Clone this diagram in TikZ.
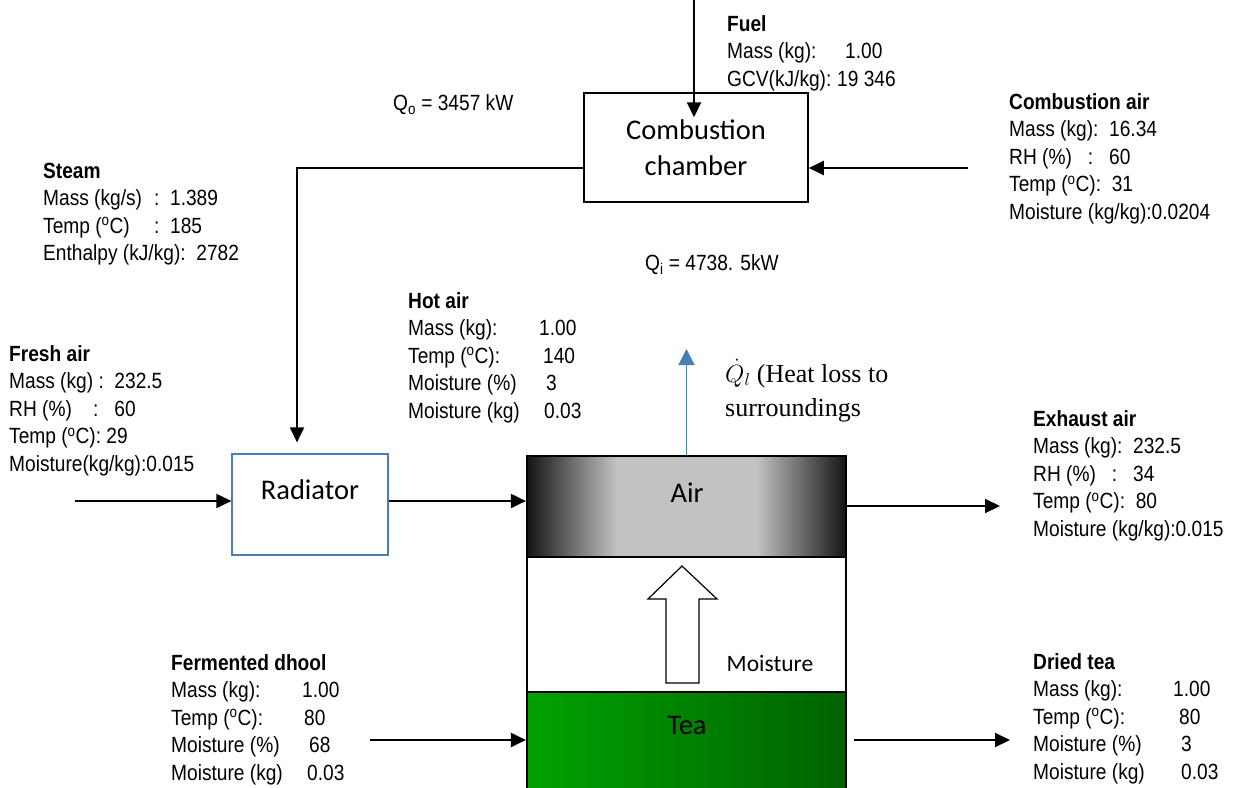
\documentclass[tikz,border=0pt]{standalone}
\usepackage{fontspec}
\setmainfont[FakeStretch=0.87]{Liberation Sans}
\newfontfamily\calfont{Carlito}
\newfontfamily\timesfont{Liberation Serif}
\usetikzlibrary{arrows.meta}
\definecolor{flowblue}{RGB}{74,126,187}
\definecolor{teagreen}{RGB}{0,162,0}
\definecolor{teadark}{RGB}{0,98,0}
\newcommand{\datafont}{\fontsize{22}{27.5}\selectfont}
\newcommand{\fld}[2]{\makebox[#1pt][l]{#2}}
\newcommand{\datarows}[1]{\begin{tabular}{@{}l@{}}#1\end{tabular}}
\pgfdeclarehorizontalshading{airshade}{100bp}{color(0bp)=(black!92); color(25bp)=(black!92); color(32bp)=(black!58); color(39bp)=(black!24); color(61bp)=(black!24); color(68bp)=(black!58); color(75bp)=(black!92); color(100bp)=(black!92)}

\begin{document}
\begin{tikzpicture}[x=1pt, y=-1pt,
    flow/.style={line width=2pt, -{Triangle[length=15pt,width=14pt]}},
    lossflow/.style={flowblue, line width=1.6pt, -{Triangle[length=16pt,width=16pt]}},
    databox/.style={anchor=north west, inner sep=0pt, font=\datafont},
    unittext/.style={font=\calfont\fontsize{28.5}{36}\selectfont, inner sep=0pt}]
  \useasboundingbox (0,0) rectangle (1233,787);

  % units
  \node[draw, line width=1.5pt, minimum width=224pt, minimum height=109pt, inner sep=0pt,
    align=center, font=\calfont\fontsize{28.5}{36}\selectfont] (comb) at (696,147.5) {Combustion\\chamber};
  \node[draw=flowblue, line width=1.2pt, minimum width=156pt, minimum height=101pt] (rad) at (310,504.5) {};
  \node[unittext] (radtext) at (310,490) {Radiator};

  \node[draw, line width=2.2pt, shading=airshade, minimum width=319pt, minimum height=101pt] (airbox) at (686.5,506.5) {};
  \node[draw, line width=2.2pt, fill=white, minimum width=319pt, minimum height=135pt] (midbox) at (686.5,624.5) {};
  \node[draw, line width=2.2pt, left color=teagreen, right color=teadark, minimum width=319pt, minimum height=100pt] (teabox) at (686.5,742) {};
  \node[unittext] (airtext) at (687,493) {Air};
  \node[unittext] (teatext) at (687,725) {Tea};
  \node[unittext, font=\calfont\fontsize{23.5}{28}\selectfont] (moisttext) at (770,663) {Moisture};
  \draw[line width=1.2pt, fill=white] (666,683) -- (666,599) -- (648,599) -- (682,566) -- (717,599) -- (699,599) -- (699,683) -- cycle;

  % streams
  \coordinate (fuelin) at (694,0);
  \coordinate (cairin) at (968,168);
  \coordinate (freshin) at (75,501);
  \coordinate (exhout) at (1000,506);
  \coordinate (dhoolin) at (370,740);
  \coordinate (teaout) at (1010,740);
  \coordinate (lossout) at (686.5,349);

  \draw[flow, shorten >=-25pt] (fuelin) -- (fuelin |- comb.north);
  \draw[flow] (cairin) -- (cairin -| comb.east);
  \draw[flow, shorten >=11pt] (comb.west |- cairin) -| ([xshift=-13pt]rad.north);
  \draw[flow] (freshin) -- (freshin -| rad.west);
  \draw[flow] (freshin -| rad.east) -- (freshin -| airbox.west);
  \draw[flow] (exhout -| airbox.east) -- (exhout);
  \draw[flow] (dhoolin) -- (dhoolin -| teabox.west);
  \draw[flow, shorten <=7pt] (teaout -| teabox.east) -- (teaout);
  \draw[lossflow] (airbox.north) -- (lossout);

  % stream data
  \node[databox] (fuel) at (727,12) {\datarows{\textbf{Fuel}\\
    \fld{118}{Mass (kg):}1.00\\
    \fld{110}{GCV(kJ/kg):}19 346}};
  \node[databox] (cair) at (1009,90) {\datarows{\textbf{Combustion air}\\
    Mass (kg):~~16.34\\
    RH (\%)~~~:~~~60\\
    Temp (\textsuperscript{o}C):~~31\\
    Moisture (kg/kg):0.0204}};
  \node[databox] (steam) at (43,159) {\datarows{\textbf{Steam}\\
    \fld{111}{Mass (kg/s)}:~~1.389\\
    \fld{111}{Temp (\textsuperscript{o}C)}:~~185\\
    Enthalpy (kJ/kg):~~2782}};
  \node[databox] (fresh) at (9,342) {\datarows{\textbf{Fresh air}\\
    Mass (kg)~:~~232.5\\
    RH (\%)~~~~:~~~60\\
    Temp (\textsuperscript{o}C):~29\\
    Moisture(kg/kg):0.015}};
  \node[databox] (hotair) at (408,289) {\datarows{\textbf{Hot air}\\
    \fld{131}{Mass (kg):}1.00\\
    \fld{135}{Temp (\textsuperscript{o}C):}140\\
    \fld{138}{Moisture (\%)}3\\
    \fld{136}{Moisture (kg)}0.03}};
  \node[databox] (exhaust) at (1033,407) {\datarows{\textbf{Exhaust air}\\
    Mass (kg):~~232.5\\
    RH (\%)~~~:~~~34\\
    Temp (\textsuperscript{o}C):~~80\\
    Moisture (kg/kg):0.015}};
  \node[databox] (dhool) at (171,651) {\datarows{\textbf{Fermented dhool}\\
    \fld{131}{Mass (kg):}1.00\\
    \fld{133}{Temp (\textsuperscript{o}C):}80\\
    \fld{138}{Moisture (\%)}68\\
    \fld{136}{Moisture (kg)}0.03}};
  \node[databox] (driedtea) at (1033,650) {\datarows{\textbf{Dried tea}\\
    \fld{140}{Mass (kg):}1.00\\
    \fld{146}{Temp (\textsuperscript{o}C):}80\\
    \fld{148}{Moisture (\%)}3\\
    \fld{148}{Moisture (kg)}0.03}};

  \node[anchor=west, inner sep=0pt, font=\datafont] (qout) at (393,105) {Q\textsubscript{o} = 3457 kW};
  \node[anchor=west, inner sep=0pt, font=\datafont] (qin) at (645,265) {Q\textsubscript{i} = 4738. 5kW};
  \node[databox, font=\timesfont\fontsize{26}{34}\selectfont] (loss) at (725,358) {\datarows{$\dot{Q}_l$ (Heat loss to\\surroundings}};
\end{tikzpicture}
\end{document}
